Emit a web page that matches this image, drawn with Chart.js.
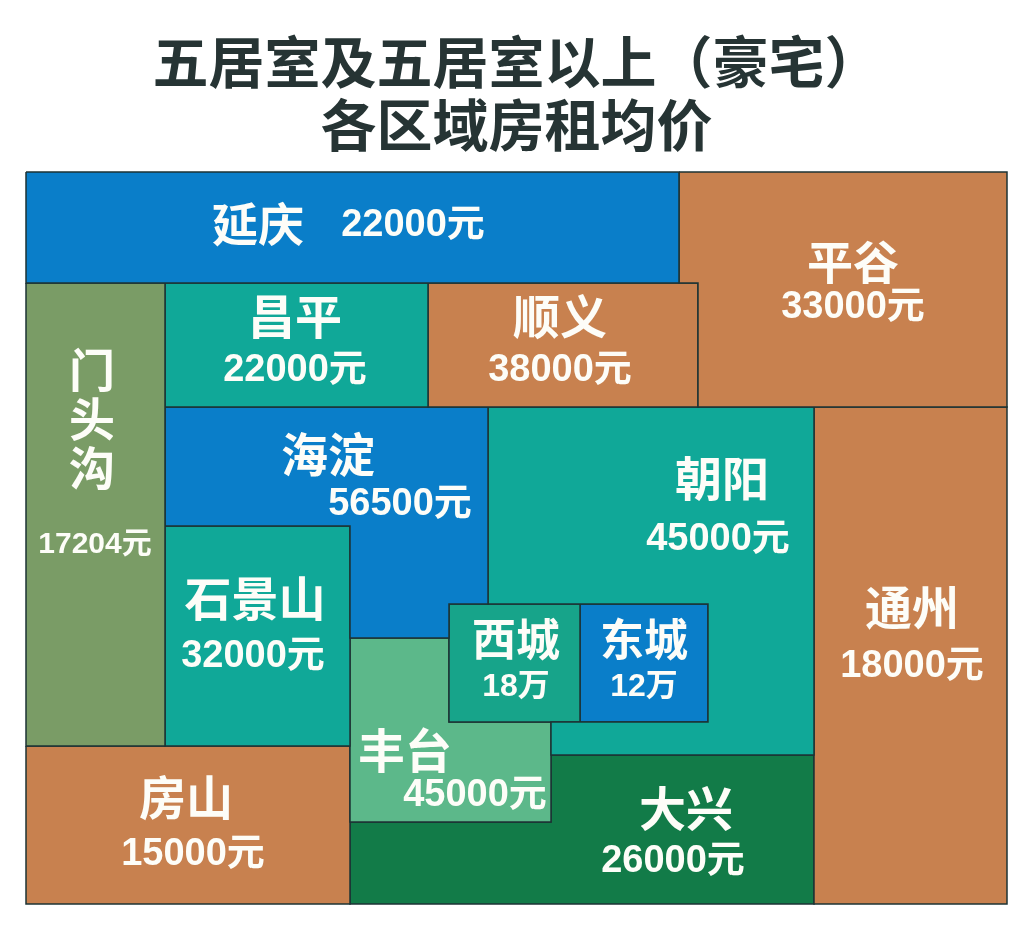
<!DOCTYPE html>
<html>
<head>
<meta charset="utf-8">
<title>五居室及五居室以上（豪宅）各区域房租均价</title>
<script src="https://cdn.jsdelivr.net/npm/chart.js@4/dist/chart.umd.min.js"></script>
<style>
  html, body { margin: 0; padding: 0; background: #fff; }
  #wrap { width: 1031px; height: 930px; position: relative; }
</style>
</head>
<body>
<div id="wrap"><canvas id="chart"></canvas></div>
<script>
// district names and average rent (yuan / month)
var districts = ['延庆', '平谷', '门头沟', '昌平', '顺义', '海淀', '朝阳',
                 '石景山', '西城', '东城', '通州', '丰台', '房山', '大兴'];
var rents = [22000, 33000, 17204, 22000, 38000, 56500, 45000,
             32000, 180000, 120000, 18000, 45000, 15000, 26000];

var titleLines = ['五居室及五居室以上（豪宅）', '各区域房租均价'];

//fill colours per district
var colors = ['#0a7ec9', '#c8814f', '#7a9c66', '#10a898', '#c8814f', '#0a7ec9', '#10a898',
              '#10a898', '#17a48a', '#0a7ec9', '#c8814f', '#5cb88a', '#c8814f', '#127b48'];

// schematic map layout (map units), one outline per district
var shapes = [
    [[26,172],[679,172],[679,283],[26,283]],
    [[679,172],[1007,172],[1007,407],[698,407],[698,283],[679,283]],
    [[26,283],[165,283],[165,746],[26,746]],
    [[165,283],[428,283],[428,407],[165,407]],
    [[428,283],[698,283],[698,407],[428,407]],
    [[165,407],[488,407],[488,604],[449,604],[449,638],[350,638],[350,526],[165,526]],
    [[488,407],[814,407],[814,755],[551,755],[551,722],[708,722],[708,604],[488,604]],
    [[165,526],[350,526],[350,746],[165,746]],
    [[449,604],[580,604],[580,722],[449,722]],
    [[580,604],[708,604],[708,722],[580,722]],
    [[814,407],[1007,407],[1007,904],[814,904]],
    [[350,638],[449,638],[449,722],[551,722],[551,822],[350,822]],
    [[26,746],[350,746],[350,904],[26,904]],
    [[350,822],[551,822],[551,755],[814,755],[814,904],[350,904]]
];

// where the name / value text sits (map units) and its size
var labelPos = [
    {name: [258,224], value: [413,226], ns: 46, vs: 38},
    {name: [853,262], value: [853,308], ns: 46, vs: 38},
    {name: [92,370], value: [95,545], ns: 46, vs: 30, vertical: 49},
    {name: [295,316], value: [295,371], ns: 47, vs: 38},
    {name: [560,316], value: [560,371], ns: 47, vs: 38},
    {name: [328,454], value: [400,505], ns: 47, vs: 38},
    {name: [722,478], value: [718,540], ns: 47, vs: 38},
    {name: [255,598], value: [253,657], ns: 47, vs: 38},
    {name: [516,639], value: [516,687], ns: 44, vs: 32},
    {name: [644,639], value: [644,687], ns: 44, vs: 32},
    {name: [912,607], value: [912,667], ns: 47, vs: 38},
    {name: [405,750], value: [475,796], ns: 47, vs: 38},
    {name: [186,797], value: [193,855], ns: 47, vs: 38},
    {name: [686,808], value: [673,862], ns: 47, vs: 38}
];

var cjkFont = "'Noto Sans CJK SC', sans-serif";
var numFont = "'Liberation Sans', 'Noto Sans CJK SC', sans-serif";

function formatRent(v) {
    if (v >= 100000) return (v / 10000) + '万';
    return v + '元';
}

//draw names and values on top of the regions
var districtLabels = {
    id: 'districtLabels',
    afterDatasetsDraw: function(chart) {
        var ctx = chart.ctx;
        var xs = chart.scales.x, ys = chart.scales.y;
        ctx.save();
        ctx.fillStyle = '#fdfdf8';
        ctx.textAlign = 'center';
        ctx.textBaseline = 'middle';
        districts.forEach(function(name, i) {
            var p = labelPos[i];
            ctx.font = 'bold ' + p.ns + 'px ' + cjkFont;
            if (p.vertical) {
                Array.from(name).forEach(function(ch, k) {
                    ctx.fillText(ch, xs.getPixelForValue(p.name[0]), ys.getPixelForValue(p.name[1] + k * p.vertical));
                });
            } else {
                ctx.fillText(name, xs.getPixelForValue(p.name[0]), ys.getPixelForValue(p.name[1]));
            }
            ctx.font = 'bold ' + p.vs + 'px ' + numFont;
            ctx.fillText(formatRent(rents[i]), xs.getPixelForValue(p.value[0]), ys.getPixelForValue(p.value[1]));
        });
        ctx.restore();
    }
};

var datasets = districts.map(function(name, i) {
    var pts = shapes[i].map(function(pt) { return {x: pt[0], y: pt[1]}; });
    pts.push(pts[0]);
    return {
        label: name,
        data: pts,
        showLine: true,
        fill: 'shape',
        backgroundColor: colors[i],
        borderColor: '#1d3334',
        borderWidth: 1.5,
        pointRadius: 0,
        tension: 0,
        clip: false
    };
});

new Chart(document.getElementById('chart'), {
    type: 'scatter',
    data: { datasets: datasets },
    plugins: [districtLabels],
    options: {
        responsive: true,
        maintainAspectRatio: false,
        animation: false,
        events: [],
        layout: { padding: { left: 26, right: 24, top: 0, bottom: 26 } },
        scales: {
            x: { type: 'linear', min: 26, max: 1007, display: false },
            y: { type: 'linear', min: 172, max: 904, reverse: true, display: false }
        },
        plugins: {
            legend: { display: false },
            tooltip: { enabled: false },
            title: {
                display: true,
                text: titleLines,
                color: '#263434',
                font: { family: cjkFont, size: 56, weight: 'bold', lineHeight: 1.125 },
                padding: { top: 30, bottom: 16 }
            }
        }
    }
});
</script>
</body>
</html>
